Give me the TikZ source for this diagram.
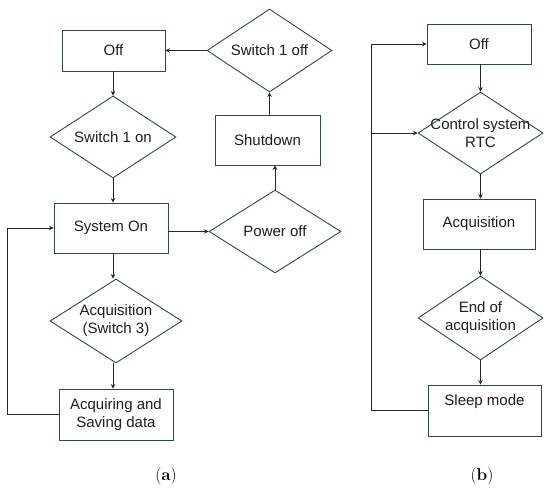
\documentclass[tikz,border=0pt]{standalone}
\usepackage{fontspec}
\newfontfamily\boxfont{Liberation Sans}
\usetikzlibrary{shapes.geometric,arrows.meta}
\definecolor{edgeblue}{HTML}{2A4A5A}
\definecolor{txt}{HTML}{1E1E1E}
\tikzset{
  boxtext/.style={inner sep=0pt, font=\boxfont\fontsize{15}{18}\selectfont, text=txt, align=center},
  base/.style={boxtext, draw=edgeblue, line width=0.9pt},
  procbox/.style={base, rectangle},
  decbox/.style={base, diamond, aspect=1.5},
  conn/.style={draw=black!85, line width=0.9pt, -{Stealth[length=4.5pt,width=4.5pt]}},
  caplabel/.style={font=\fontsize{17}{20}\selectfont}
}
\begin{document}
\begin{tikzpicture}[x=1pt,y=-1pt]
\useasboundingbox (0,0) rectangle (550,490);
% panel (a)
\node[procbox, minimum width=103pt, minimum height=41pt] (offA) at (113.5,50.5) {Off};
\node[decbox, minimum width=126pt, minimum height=82pt] (swon) at (113,137) {};
\node[boxtext] (swonT) at (swon.center) {Switch 1 on};
\node[procbox, minimum width=114pt, minimum height=50pt] (sysOn) at (111,228) {System On};
\node[decbox, minimum width=132pt, minimum height=84pt] (acqA) at (116,321) {};
\node[boxtext] (acqAT) at (acqA.center) {Acquisition\\(Switch 3)};
\node[procbox, minimum width=114pt, minimum height=51pt] (saveA) at (116,414.5) {Acquiring and\\Saving data};
\node[decbox, minimum width=132pt, minimum height=83pt] (pwr) at (275,231.5) {};
\node[boxtext] (pwrT) at (pwr.center) {Power off};
\node[procbox, minimum width=105pt, minimum height=50pt] (shut) at (267.5,140) {Shutdown};
\node[decbox, minimum width=125pt, minimum height=83pt] (swoff) at (269.5,50.5) {};
\node[boxtext] (swoffT) at (swoff.center) {Switch 1 off};
\coordinate (lbA) at (7,0);
\draw[conn] (offA.south -| swon.north) -- (swon.north);
\draw[conn] (swon.south) -- (swon.south |- sysOn.north);
\draw[conn] (sysOn.south -| swon.south) -- (swon.south |- acqA.north);
\draw[conn] (swon.south |- acqA.south) -- (swon.south |- saveA.north);
\draw[conn] (saveA.west) -| (lbA |- sysOn.west) -- (sysOn.west);
\draw[conn] (sysOn.east |- pwr.west) -- (pwr.west);
\draw[conn] (pwr.north) -- (pwr.north |- shut.south);
\draw[conn] (swoff.south |- shut.north) -- (swoff.south);
\draw[conn] (swoff.west) -- (swoff.west -| offA.east);
\node[caplabel] (capA) at (166,476) {(\textbf{a})};
% panel (b)
\node[procbox, minimum width=104pt, minimum height=40pt] (offB) at (479,44) {Off};
\node[decbox, minimum width=125pt, minimum height=82pt] (ctrl) at (480.5,133) {};
\node[boxtext] (ctrlT) at (ctrl.center) {Control system\\RTC};
\node[procbox, minimum width=112pt, minimum height=50pt] (acqB) at (479,224) {Acquisition};
\node[decbox, minimum width=125pt, minimum height=84pt] (endA) at (480.5,318) {};
\node[boxtext] (endAT) at (endA.center) {End of\\acquisition};
\node[procbox, minimum width=113pt, minimum height=51pt, text height=10pt, text depth=20pt] (sleep) at (484.5,410.5) {Sleep mode};
\coordinate (lbB) at (371,0);
\draw[conn] (offB.south -| ctrl.north) -- (ctrl.north);
\draw[conn] (ctrl.south) -- (ctrl.south |- acqB.north);
\draw[conn] (acqB.south -| endA.north) -- (endA.north);
\draw[conn] (endA.south) -- (endA.south |- sleep.north);
\draw[conn] (sleep.west) -| (lbB |- offB.west) -- (offB.west);
\draw[conn] (lbB |- ctrl.west) -- (ctrl.west);
\node[caplabel] (capB) at (482,476) {(\textbf{b})};
\end{tikzpicture}
\end{document}
